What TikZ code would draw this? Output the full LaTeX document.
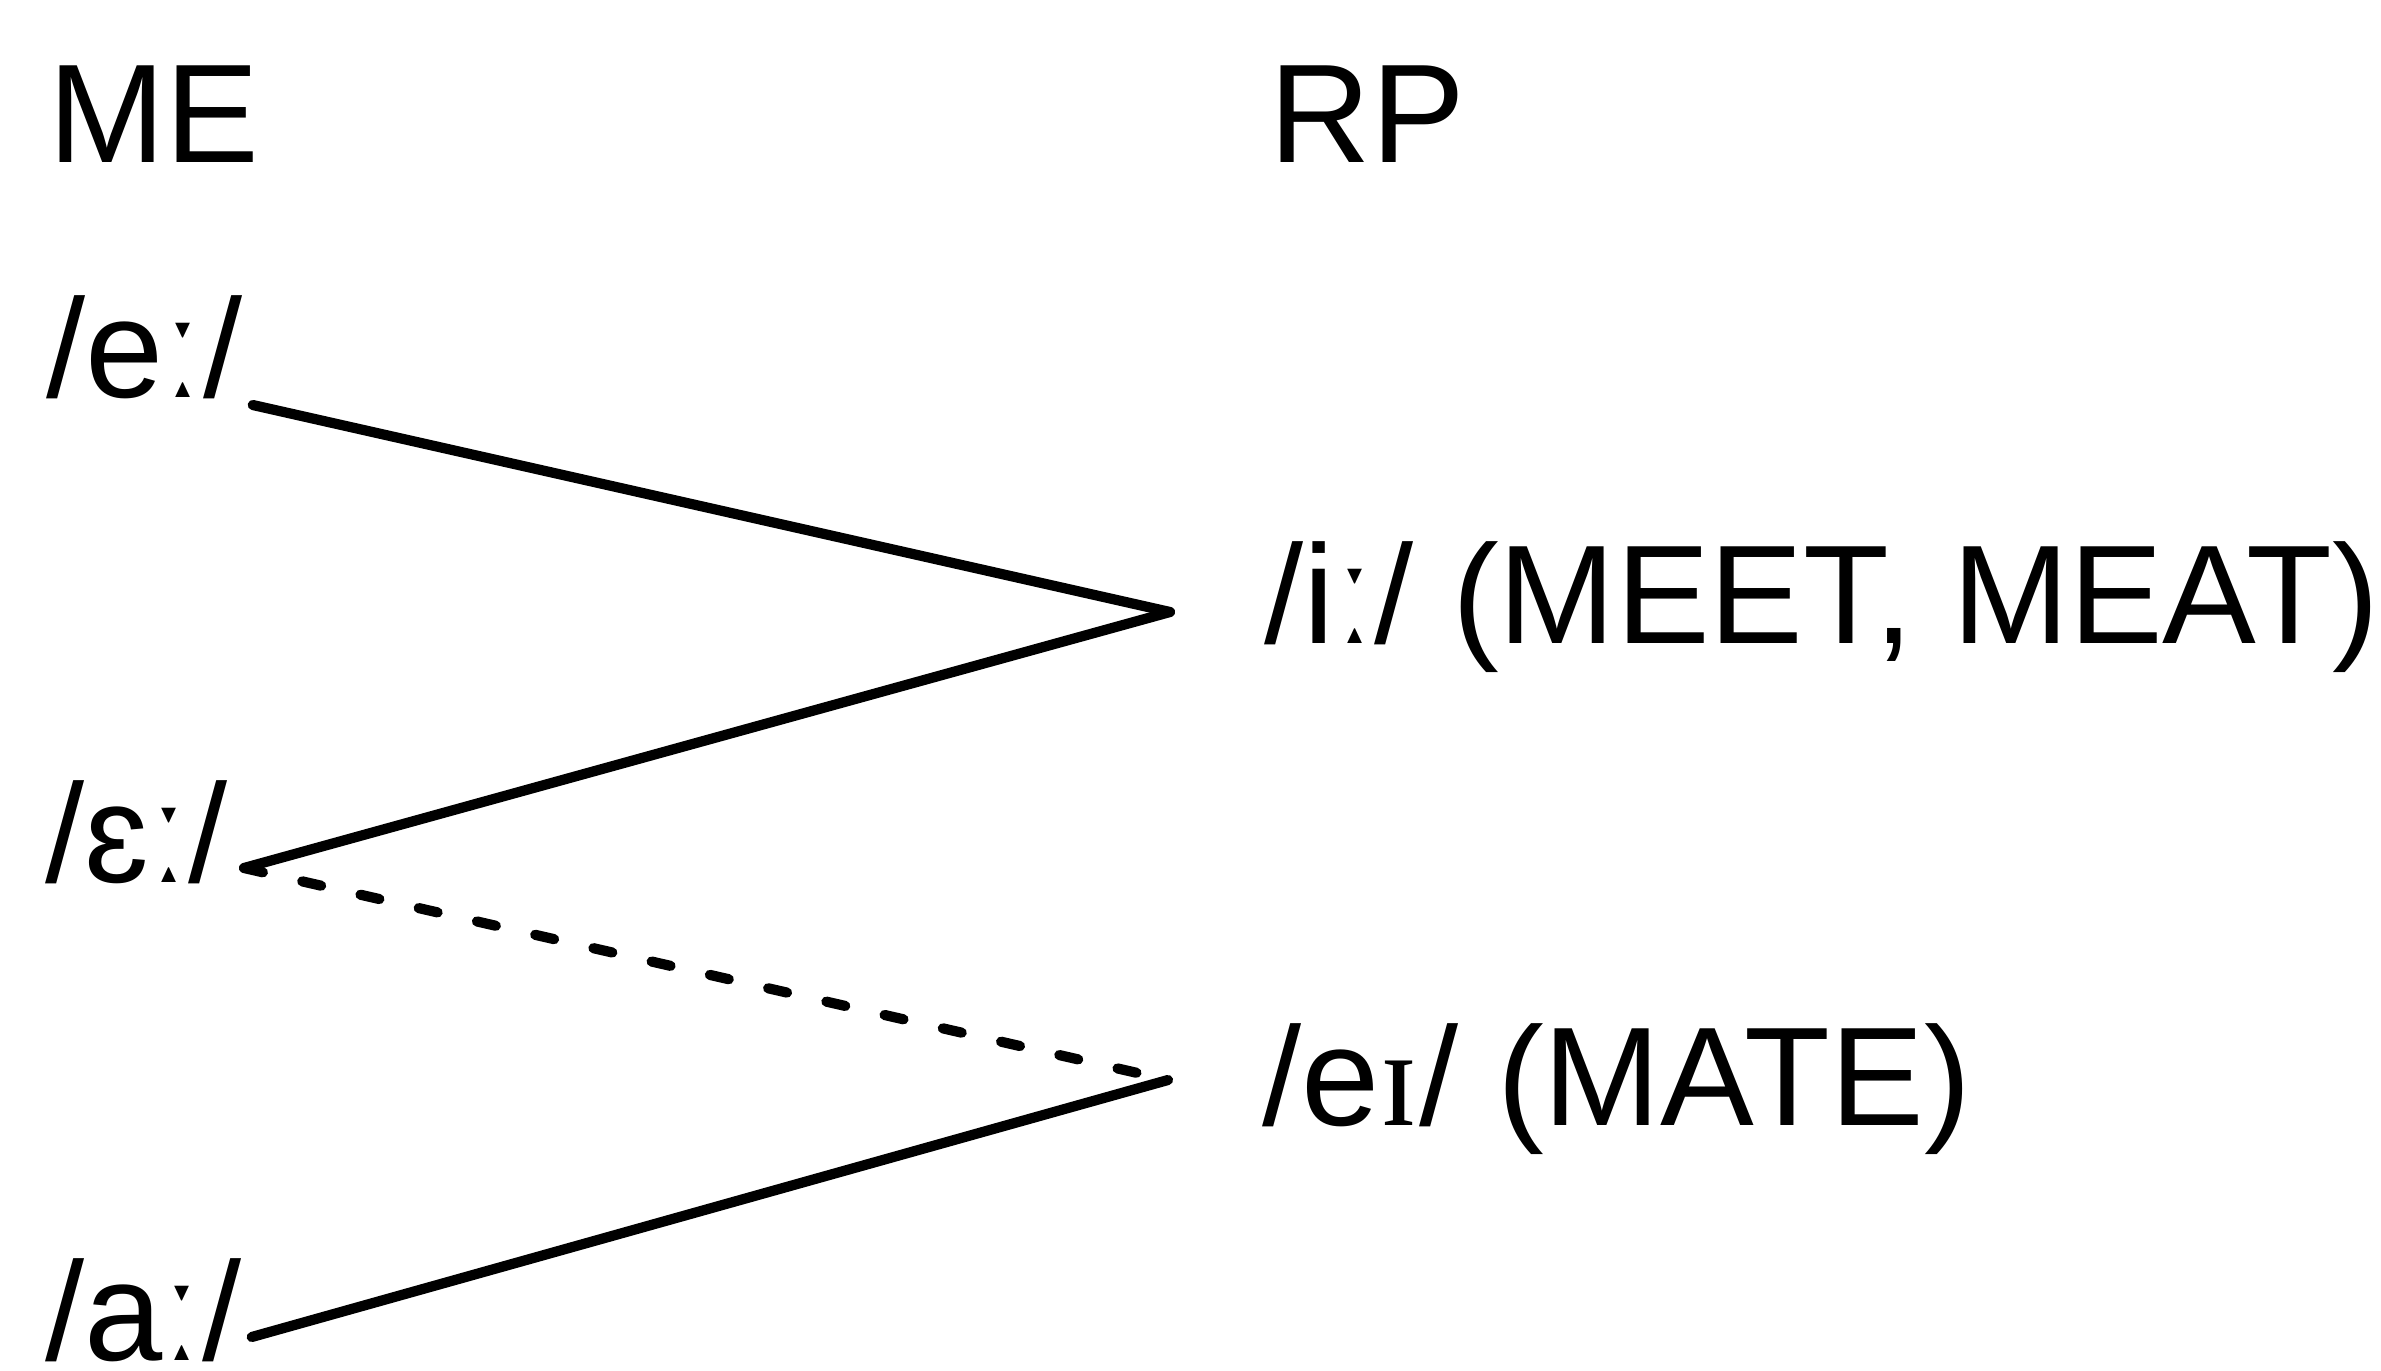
\documentclass[tikz,border=0pt]{standalone}
\usepackage{fontspec}
\setmainfont{Liberation Sans}
\newfontfamily\ipaserif{Liberation Serif}
\usetikzlibrary{positioning}

\begin{document}
\begin{tikzpicture}[
    lbl/.style={inner sep=0pt, anchor=base west, font=\fontsize{40}{48}\selectfont},
    chg/.style={line width=2.9pt, line cap=round},
    chgdash/.style={chg, dash pattern=on 5.5pt off 11.5pt}]
    \useasboundingbox (0,0) rectangle (23.81,13.70);

    % Headings
    \node[lbl] (me) at (0.48,12.07) {ME};
    \node[lbl] (rp) at (12.69,12.07) {RP};

    % ME vowels
    \node[lbl] (ee) at (0.46,9.72) {/eː/};
    \node[lbl] (eps) at (0.45,4.88) {/ɛː/};
    \node[lbl] (aa) at (0.45,0.10) {/aː/};

    % RP vowels
    \node[lbl] (ii) at (12.64,7.27) {/iː/ (MEET, MEAT)};
    \node[lbl] (ei) at (12.62,2.45) {/e{\ipaserif ɪ}/ (MATE)};

    % Where the lines meet
    \coordinate (iijoin) at (11.70,7.58);
    \coordinate (eijoin) at (11.68,2.90);

    % Changes
    \draw[chg] ([shift={(0.10,-0.07)}]ee.base east) -- (iijoin);
    \draw[chg] ([shift={(0.16,0.14)}]eps.base east) -- (iijoin);
    \draw[chgdash] ([shift={(0.16,0.14)}]eps.base east) -- (eijoin);
    \draw[chg] ([shift={(0.10,0.23)}]aa.base east) -- (eijoin);
\end{tikzpicture}
\end{document}
